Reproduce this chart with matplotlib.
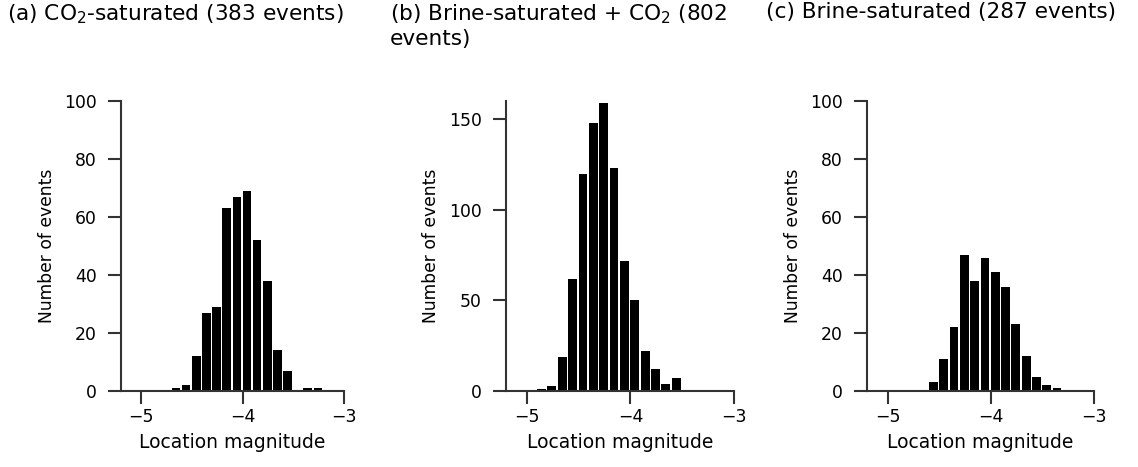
import matplotlib.pyplot as plt

plt.rcParams['font.family'] = ['DejaVu Sans']
plt.rcParams['mathtext.fontset'] = 'dejavusans'

# left bin edges (bin width 0.1) and counts
bins_a = [-4.7, -4.6, -4.5, -4.4, -4.3, -4.2, -4.1, -4.0, -3.9, -3.8, -3.7, -3.6, -3.5, -3.4, -3.3]
counts_a = [1, 2, 12, 27, 29, 63, 67, 69, 52, 38, 14, 7, 0, 1, 1]

bins_b = [-4.9, -4.8, -4.7, -4.6, -4.5, -4.4, -4.3, -4.2, -4.1, -4.0, -3.9, -3.8, -3.7, -3.6]
counts_b = [1, 3, 19, 62, 120, 148, 159, 123, 72, 50, 22, 12, 4, 7]

bins_c = [-4.6, -4.5, -4.4, -4.3, -4.2, -4.1, -4.0, -3.9, -3.8, -3.7, -3.6, -3.5, -3.4]
counts_c = [3, 11, 22, 47, 38, 46, 41, 36, 23, 12, 5, 2, 1]

titles = [
    '(a) CO$_2$-saturated (383 events)',
    '(b) Brine-saturated + CO$_2$ (802\nevents)',
    '(c) Brine-saturated (287 events)',
]
title_x = [7, 390, 766]
ylims = [100, 160, 100]
yticks = [[0, 20, 40, 60, 80, 100], [0, 50, 100, 150], [0, 20, 40, 60, 80, 100]]
axes_left = [121, 506, 867]
axes_width = [223, 228, 227]

W, H = 1138, 467
fig = plt.figure(figsize=(W / 100, H / 100), dpi=100)

spine_col = '#333333'
data = [(bins_a, counts_a), (bins_b, counts_b), (bins_c, counts_c)]
for i, (b, c) in enumerate(data):
    ax = fig.add_axes([axes_left[i] / W, (H - 391) / H, axes_width[i] / W, 290 / H])
    ax.bar(b, c, width=0.085, align='edge', color='black', linewidth=0)
    ax.set_xlim(-5.2, -3)
    ax.set_ylim(0, ylims[i])
    ax.set_xticks([-5, -4, -3])
    ax.set_xticklabels(['\u22125', '\u22124', '\u22123'])
    ax.set_yticks(yticks[i])
    for s in ['top', 'right']:
        ax.spines[s].set_visible(False)
    for s in ['left', 'bottom']:
        ax.spines[s].set_linewidth(1.5)
        ax.spines[s].set_color(spine_col)
    ax.tick_params(length=9.5, width=1.5, color=spine_col, labelsize=12.4)
    ax.tick_params(axis='x', pad=3)
    ax.tick_params(axis='y', pad=8)
    ax.set_xlabel('Location magnitude', fontsize=13.5, labelpad=5)
    ax.set_ylabel('Number of events', fontsize=12.3, labelpad=6)
    fig.text(title_x[i] / W, 1 - 2 / H, titles[i], fontsize=15.6, ha='left', va='top',
             linespacing=1.2)

fig.savefig('out.png', dpi=100)
